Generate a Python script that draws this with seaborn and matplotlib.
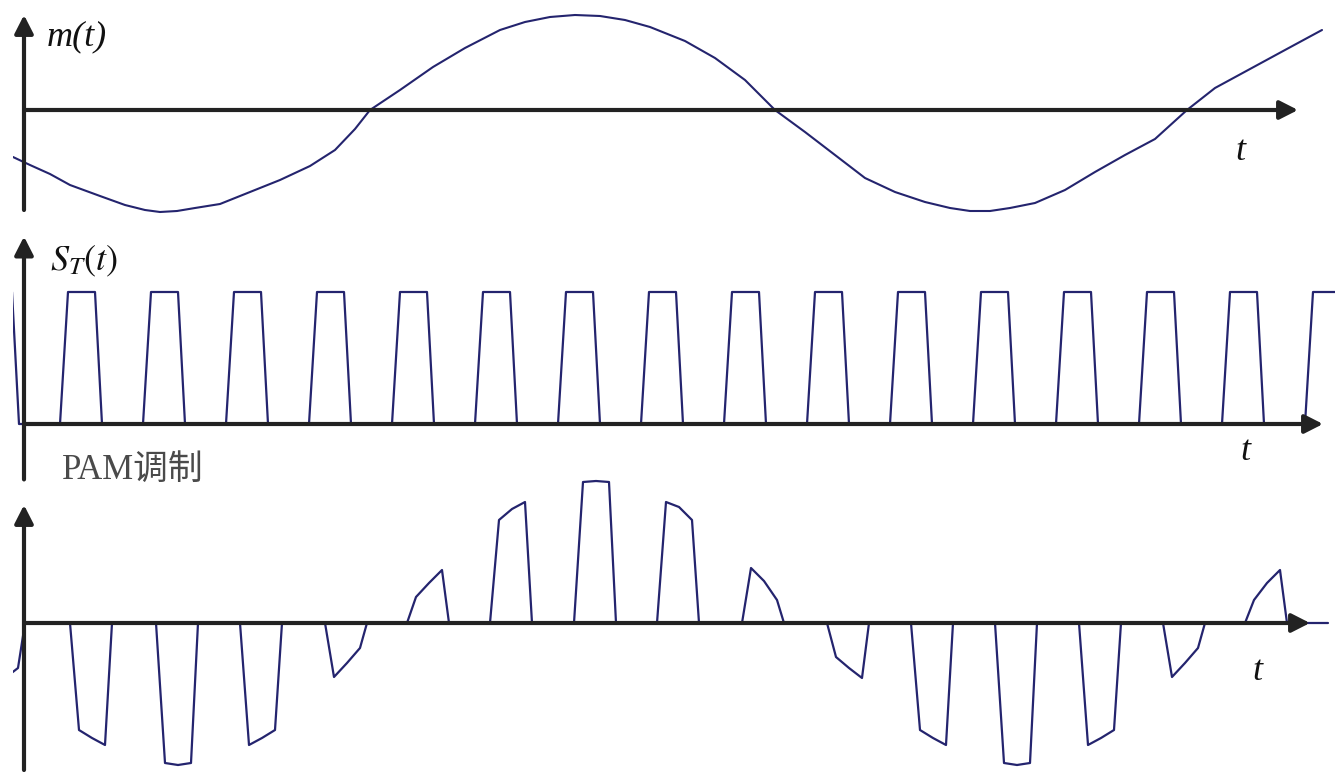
import numpy as np
import matplotlib
matplotlib.use('Agg')
import matplotlib.pyplot as plt
import seaborn as sns
import pandas as pd

# message signal m(t) (time in px along the axis)
m_time = [13, 30, 50, 70, 100, 125, 145, 160, 177, 195, 220, 250, 280, 310,
          335, 355, 370, 400, 433, 465, 500, 525, 550, 575, 600, 625, 650,
          685, 715, 745, 775, 805, 835, 865, 895, 925, 950, 970, 990, 1010,
          1035, 1065, 1095, 1125, 1155, 1187, 1215, 1250, 1285, 1322]
m_value = [-0.47, -0.55, -0.64, -0.75, -0.86, -0.95, -1.00, -1.02, -1.01,
           -0.98, -0.94, -0.82, -0.70, -0.56, -0.40, -0.19, 0.00, 0.20, 0.43,
           0.62, 0.80, 0.88, 0.93, 0.95, 0.94, 0.90, 0.83, 0.69, 0.52, 0.30,
           0.00, -0.22, -0.45, -0.68, -0.82, -0.92, -0.98, -1.01, -1.01,
           -0.98, -0.93, -0.80, -0.62, -0.45, -0.29, 0.00, 0.22, 0.41, 0.60,
           0.80]

# sampling pulse train S_T(t): start of each pulse
pulse_starts = [-23, 60, 143, 226, 309, 392, 475, 558, 641, 724, 807, 890,
                973, 1056, 1139, 1222, 1305]

# PAM pulses: start and top value at left / middle / right of each pulse
pam_starts = [-17, 70, 156, 240, 325, 407, 490, 574, 657, 742, 827, 911,
              995, 1079, 1163, 1245]
pam_left = [-0.62, -1.07, -1.40, -1.22, -0.54, 0.26, 1.03, 1.41, 1.21, 0.55,
            -0.34, -1.07, -1.40, -1.22, -0.54, 0.23]
pam_mid = [-0.55, -1.15, -1.42, -1.15, -0.40, 0.40, 1.14, 1.42, 1.16, 0.42,
           -0.45, -1.15, -1.42, -1.15, -0.40, 0.40]
pam_right = [-0.45, -1.22, -1.40, -1.07, -0.25, 0.53, 1.21, 1.41, 1.03, 0.23,
             -0.55, -1.22, -1.40, -1.07, -0.25, 0.53]
t_end = 1328

line_color = '#24246e'
axis_color = '#222222'

sns.set_theme(style='white')
plt.rcParams['mathtext.fontset'] = 'stix'
plt.rcParams['font.family'] = ['Liberation Serif', 'Noto Sans CJK SC', 'DejaVu Sans']

W, H = 1335, 780
fig = plt.figure(figsize=(W / 100, H / 100), dpi=100)
fig.patch.set_facecolor('white')


def panel(top_px, bottom_px, base_px, unit_px):
    ax = fig.add_axes([13 / W, 1 - bottom_px / H, (W - 13) / W, (bottom_px - top_px) / H])
    ax.set_xlim(13, W)
    ax.set_ylim((base_px - bottom_px) / unit_px, (base_px - top_px) / unit_px)
    ax.axis('off')
    return ax


def draw_axes(ax, y_low, y_high, x_tip):
    arrow = dict(arrowstyle='-|>,head_length=0.55,head_width=0.28', lw=3,
                 color=axis_color, shrinkA=0, shrinkB=0, mutation_scale=20)
    ax.annotate('', xy=(24, y_high), xytext=(24, y_low), arrowprops=arrow)
    ax.annotate('', xy=(x_tip, 0), xytext=(24, 0), arrowprops=arrow)


label_kw = dict(fontsize=26, style='italic', color='#111111', va='center')

# ---- top: m(t)
ax1 = panel(0, 230, 110, 100)
draw_axes(ax1, -1.0, 0.95, 1298)
df_m = pd.DataFrame({'t': m_time, 'm': m_value})
sns.lineplot(data=df_m, x='t', y='m', ax=ax1, color=line_color, lw=1.5,
             estimator=None, sort=False, legend=False)
ax1.text(47, 0.73, 'm(t)', ha='left', **label_kw)
ax1.text(1240, -0.41, 't', ha='center', **label_kw)
ax1.axis('off')

# ---- middle: S_T(t)
ax2 = panel(230, 500, 424, 132)
st_t, st_v = [], []
for s in pulse_starts:
    st_t += [s, s + 8, s + 35, s + 42]
    st_v += [0, 1, 1, 0]
df_s = pd.DataFrame({'t': st_t, 'v': st_v})
sns.lineplot(data=df_s, x='t', y='v', ax=ax2, color=line_color, lw=1.6,
             estimator=None, sort=False, legend=False)
draw_axes(ax2, -0.42, 1.42, 1323)
ax2.text(50, 1.23, r'$S_T(t)$', fontsize=26, ha='left', va='center', color='#111111')
ax2.text(1245, -0.21, 't', ha='center', **label_kw)
ax2.axis('off')

# ---- bottom: PAM
ax3 = panel(440, 780, 623, 100)
pam_t, pam_v = [], []
for s, l, mm, r in zip(pam_starts, pam_left, pam_mid, pam_right):
    pam_t += [s, s + 9, s + 22, s + 35, s + 42]
    pam_v += [0, l, mm, r, 0]
pam_t.append(t_end)
pam_v.append(0)
df_p = pd.DataFrame({'t': pam_t, 'v': pam_v})
sns.lineplot(data=df_p, x='t', y='v', ax=ax3, color=line_color, lw=1.6,
             estimator=None, sort=False, legend=False)
draw_axes(ax3, -1.47, 1.18, 1310)
ax3.text(62, 1.53, 'PAM调制', fontsize=25, ha='left', va='center', color='#4a4a4a')
ax3.text(1257, -0.49, 't', ha='center', **label_kw)
ax3.axis('off')

fig.savefig('out.png', dpi=100, facecolor='white')
